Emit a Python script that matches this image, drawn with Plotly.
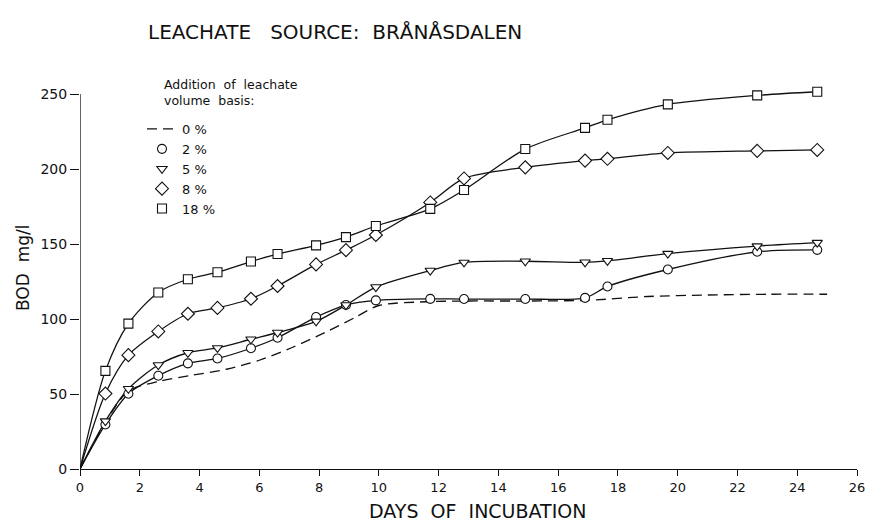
import plotly.graph_objects as go

# Sampling days (shared by the marked series)
days = [0, 0.85, 1.62, 2.62, 3.61, 4.6, 5.72, 6.61, 7.9, 8.9, 9.9, 11.72, 12.85,
        14.9, 16.9, 17.65, 19.67, 22.66, 24.67]

bod_2 = [0, 29.7, 50.2, 62.2, 70.4, 73.7, 80.5, 87.5, 101.3, 109.3, 112.4, 113.4,
         113.3, 113.3, 114.1, 121.7, 133.0, 144.8, 146.1]
bod_5 = [0, 31.9, 53.5, 69.3, 77.5, 80.7, 86.5, 91.0, 98.4, 109.3, 121.3, 132.3,
         137.7, 138.5, 137.8, 138.8, 143.6, 148.6, 150.9]
bod_8 = [0, 50.3, 75.9, 91.7, 103.5, 107.4, 113.5, 122.0, 136.4, 145.9, 156.0, 177.7,
         193.7, 201.1, 205.6, 206.8, 210.7, 212.1, 212.7]
bod_18 = [0, 65.4, 96.9, 117.7, 126.5, 131.2, 138.3, 143.3, 149.1, 154.6, 162.0, 173.4,
          186.0, 213.3, 227.4, 232.8, 243.1, 249.1, 251.5]

# Control curve (no markers)
days_0 = [0, 0.85, 1.62, 2.65, 3.75, 4.9, 6.0, 7.1, 8.2, 9.2, 10.0, 11.6, 13.0,
          15.0, 17.0, 19.0, 21.0, 23.0, 25.0]
bod_0 = [0, 31, 52, 58.5, 62.5, 66.5, 72.5, 81, 91, 101, 109, 111.5, 112, 112,
         112.5, 115, 116, 116.5, 116.5]

series = [
    ("2 %", bod_2, "circle"),
    ("5 %", bod_5, "triangle-down"),
    ("8 %", bod_8, "diamond"),
    ("18 %", bod_18, "square"),
]

x_ticks = list(range(0, 27, 2))
y_ticks = [0, 50, 100, 150, 200, 250]

FONT = "DejaVu Sans, sans-serif"
BLACK = "#111111"

# The page body adds an 8px margin on every side; size the figure so the page
# never overflows the 873x529 window.
OFF = 8
W, H = 873 - OFF, 529 - 2 * OFF
L, R, T, B = 80 - OFF, 16, 76 - OFF, 60 - OFF

fig = go.Figure()

fig.add_trace(go.Scatter(
    x=days_0, y=bod_0, mode="lines", name="0 %",
    line=dict(color=BLACK, width=1.3, dash="10px,6px", shape="spline", smoothing=0.8),
))

for name, vals, sym in series:
    fig.add_trace(go.Scatter(
        x=days, y=vals, mode="lines", showlegend=False,
        line=dict(color=BLACK, width=1.3, shape="spline", smoothing=0.8),
        hoverinfo="skip",
    ))

for name, vals, sym in series:
    fig.add_trace(go.Scatter(
        x=days[1:], y=vals[1:], mode="markers", name=name,
        marker=dict(symbol=sym, size=10 if sym == "diamond" else 9, color="white",
                    line=dict(color=BLACK, width=1.1)),
    ))

# y axis line up to the top tick only
fig.add_shape(type="line", xref="x", yref="y", x0=0, x1=0, y0=0, y1=y_ticks[-1],
              line=dict(color=BLACK, width=1.3))

PW = W - L - R
PH = H - T - B

def px_x(p):  # page pixel -> paper x
    return (p - OFF - L) / PW

def px_y(p):  # page pixel -> paper y
    return (H - B - (p - OFF)) / PH

annotations = [
    dict(text="Addition  of  leachate<br>volume  basis:", xref="paper", yref="paper",
         x=px_x(162), y=px_y(75), xanchor="left", yanchor="top", align="left",
         showarrow=False, font=dict(family=FONT, size=12.5, color=BLACK)),
    dict(text="DAYS  OF  INCUBATION", xref="paper", yref="paper",
         x=px_x(477), y=px_y(511), xanchor="center", yanchor="middle",
         showarrow=False, font=dict(family=FONT, size=19, color=BLACK)),
    dict(text="BOD  mg/l", xref="paper", yref="paper", textangle=-90,
         x=px_x(23), y=px_y(268), xanchor="center", yanchor="middle",
         showarrow=False, font=dict(family=FONT, size=17, color=BLACK)),
]

fig.update_layout(
    width=W, height=H,
    margin=dict(l=L, r=R, t=T, b=B),
    paper_bgcolor="white", plot_bgcolor="white",
    font=dict(family=FONT, color=BLACK, size=13),
    title=dict(text="LEACHATE   SOURCE:  BRÅNÅSDALEN", xref="container", yref="container",
               x=(148 - OFF) / W, xanchor="left", y=1 - (32 - OFF) / H, yanchor="middle",
               font=dict(family=FONT, size=20, color=BLACK)),
    showlegend=True,
    legend=dict(
        x=px_x(142), y=px_y(114), xanchor="left", yanchor="top",
        bgcolor="rgba(0,0,0,0)", borderwidth=0,
        font=dict(family=FONT, size=13, color=BLACK),
        tracegroupgap=0, itemwidth=30,
    ),
    annotations=annotations,
    xaxis=dict(
        range=[0, 26], tickvals=x_ticks, ticktext=[str(v) for v in x_ticks],
        showgrid=False, zeroline=False, showline=True, linecolor=BLACK, linewidth=1.3,
        ticks="outside", ticklen=6, tickcolor=BLACK, tickwidth=1.2,
        tickfont=dict(family=FONT, size=13, color=BLACK),
        automargin=False, ticklabeloverflow="allow",
    ),
    yaxis=dict(
        range=[0, 262], tickvals=y_ticks, ticktext=[str(v) for v in y_ticks],
        showgrid=False, zeroline=False, showline=False,
        ticks="outside", ticklen=9, tickcolor=BLACK, tickwidth=1.2,
        tickfont=dict(family=FONT, size=14, color=BLACK),
        automargin=False, ticklabeloverflow="allow",
    ),
)

fig.write_html("out.html")
